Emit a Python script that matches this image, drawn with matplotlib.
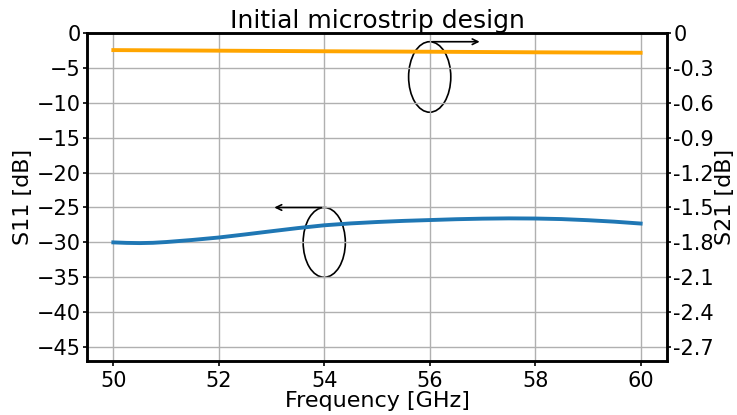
import numpy as np
from matplotlib import pyplot as plt
from matplotlib.patches import Ellipse

# S11 (left axis)
freq = [50, 50.25, 50.5, 50.75, 51, 51.5, 52, 52.5, 53, 53.5, 54, 54.5, 55, 55.5,
        56, 56.5, 57, 57.5, 58, 58.5, 59, 59.5, 60]
s11 = [-30.0, -30.07, -30.1, -30.06, -29.95, -29.65, -29.3, -28.86, -28.4, -27.95,
       -27.55, -27.28, -27.08, -26.92, -26.8, -26.68, -26.6, -26.56, -26.58, -26.66,
       -26.82, -27.03, -27.3]

# S21 (right axis)
freq21 = [50, 52, 54, 56, 58, 60]
s21 = [-0.147, -0.152, -0.157, -0.161, -0.166, -0.170]

s21_ticks = [0, -0.3, -0.6, -0.9, -1.2, -1.5, -1.8, -2.1, -2.4, -2.7]
s21_labels = ["0", "-0.3", "-0.6", "-0.9", "-1.2", "-1.5", "-1.8", "-2.1", "-2.4", "-2.7"]

fig = plt.figure(figsize=(7.37, 4.15), dpi=100)
ax1 = fig.add_axes([0.118, 0.13, 0.787, 0.7905])
ax2 = ax1.twinx()

ax1.plot(freq, s11, color="tab:blue", lw=2.8)
ax2.plot(freq21, s21, color="orange", lw=2.8)

ax1.set_xlim(49.5, 60.5)
ax1.set_ylim(-47, 0)
ax2.set_ylim(-2.82, 0)
ax1.set_xticks([50, 52, 54, 56, 58, 60])
ax1.set_yticks(np.arange(0, -46, -5))
ax2.set_yticks(s21_ticks)
ax2.set_yticklabels(s21_labels)

ax1.grid(True, color="#b0b0b0", lw=1)

for ax in (ax1, ax2):
    ax.tick_params(labelsize=15, width=1.2)
    ax.tick_params(axis="y", length=3, pad=1.5)
    for sp in ax.spines.values():
        sp.set_linewidth(1.8)

ax1.set_xlabel("Frequency [GHz]", fontsize=16, labelpad=0)
ax1.set_ylabel("S11 [dB]", fontsize=16)
ax2.set_ylabel("S21 [dB]", fontsize=16)
ax1.yaxis.set_label_coords(-0.093, 0.5)
ax2.yaxis.set_label_coords(1.082, 0.5)
ax1.set_title("Initial microstrip design", fontsize=18, pad=1)

# ellipse markers with arrows pointing at the axis of each curve
ax1.add_patch(Ellipse((56, -6.3), 0.8, 10.1, fill=False, color="black", lw=1.2))
ax1.annotate("", xy=(57, -1.25), xytext=(56, -1.25),
             arrowprops=dict(arrowstyle="->", color="black", lw=1.2))
ax1.add_patch(Ellipse((54, -30), 0.8, 10, fill=False, color="black", lw=1.2))
ax1.annotate("", xy=(53, -25), xytext=(54, -25),
             arrowprops=dict(arrowstyle="->", color="black", lw=1.2))

plt.savefig("out.png", dpi=100)
